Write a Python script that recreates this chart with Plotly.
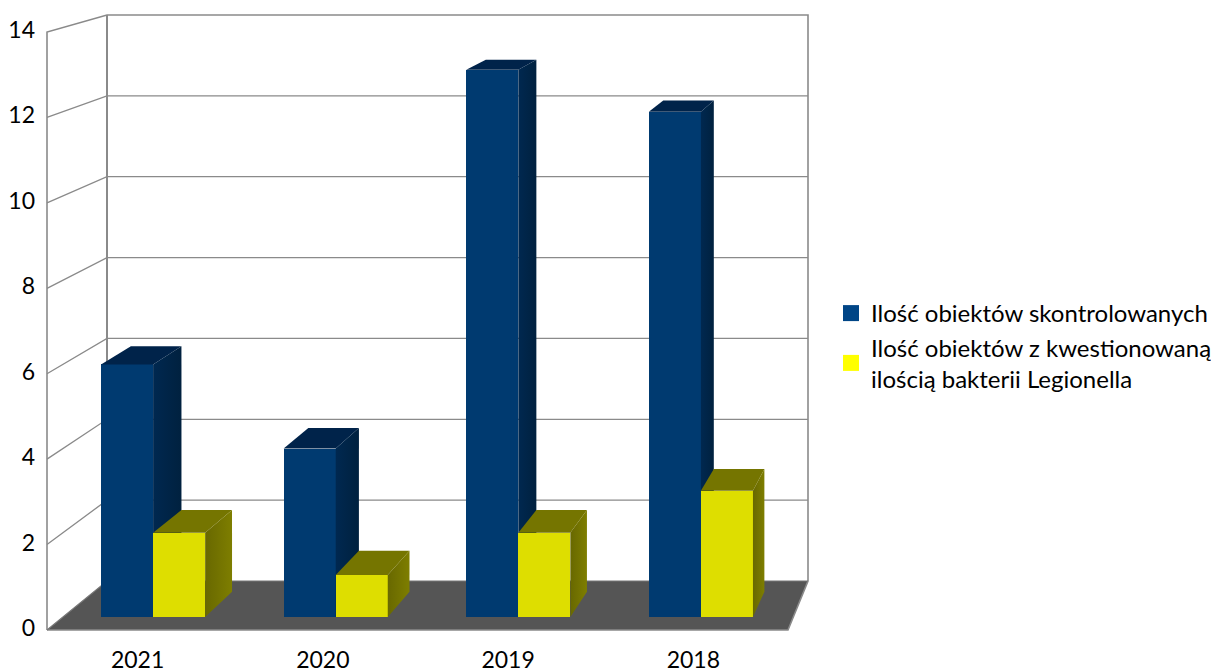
import plotly.graph_objects as go

categories = ["2021", "2020", "2019", "2018"]
skontrolowane = [6, 4, 13, 12]
kwestionowane = [2, 1, 2, 3]
legend_names = ["Ilość obiektów skontrolowanych",
                "Ilość obiektów z kwestionowaną<br>ilością bakterii Legionella"]
y_ticks = [0, 2, 4, 6, 8, 10, 12, 14]

W, H = 1211, 670
Z0, Z1 = 0.265, 0.78      # bar front / back depth
WIDTH = 0.285
CENTER = 0.494
FONT = "Lato"
GRID = "#8a8a8a"

def px(c, v, z):
    return 47 + 185.25 * c + z * (60 - 10 * c)

def py(v, z):
    return 630 - 42.71 * v + z * (-49 + 2.28 * v)

SX = px(1, 0, Z0) - px(0, 0, Z0)
SY = py(0, Z0) - py(1, Z0)
OX = px(0, 0, Z0)
OY = py(0, Z0)
xr = [(0 - OX) / SX, (W - OX) / SX]
yr = [(OY - H) / SY, OY / SY]

def proj(points):
    xs = [(px(c, v, z) - OX) / SX for c, v, z in points]
    ys = [(OY - py(v, z)) / SY for c, v, z in points]
    return xs + xs[:1], ys + ys[:1]

def poly(fig, points, color, xa="x", ya="y", gradient=None):
    x, y = proj(points)
    kw = {}
    if gradient:
        kw["fillgradient"] = dict(type="horizontal",
                                  colorscale=[[0, gradient[0]], [1, gradient[1]]])
    else:
        kw["fillcolor"] = color
    fig.add_trace(go.Scatter(x=x, y=y, mode="lines", fill="toself",
                             line=dict(width=0, color=color), hoverinfo="skip",
                             showlegend=False, xaxis=xa, yaxis=ya, **kw))

def line(fig, points, color=GRID, width=1.5):
    xs = [(px(c, v, z) - OX) / SX for c, v, z in points]
    ys = [(OY - py(v, z)) / SY for c, v, z in points]
    fig.add_trace(go.Scatter(x=xs, y=ys, mode="lines", line=dict(width=width, color=color),
                             hoverinfo="skip", showlegend=False, xaxis="x", yaxis="y"))

fig = go.Figure()

# floor
poly(fig, [(0, 0, 0), (4, 0, 0), (4, 0, 1), (0, 0, 1)], "#555555")
# walls
for v in y_ticks[1:-1]:
    line(fig, [(0, v, 0), (0, v, 1), (4, v, 1)], width=1.3)
line(fig, [(0, 0, 0), (0, 14, 0), (0, 14, 1), (4, 14, 1), (4, 0, 1), (4, 0, 0), (0, 0, 0)], width=1.6)
line(fig, [(0, 0, 0), (0, 0, 1), (4, 0, 1)], color="#777777", width=1.2)
line(fig, [(0, 14, 1), (0, 0, 1)], width=2)

def bar_3d(values, start, front, top, side, xa, ya):
    fig.add_trace(go.Bar(x=[i + CENTER for i in range(len(values))], y=values, base=0,
                         width=WIDTH, offset=start, marker=dict(color=front, line=dict(width=0)),
                         showlegend=False, xaxis=xa, yaxis=ya, hoverinfo="skip"))
    for i, v in enumerate(values):
        a = i + CENTER + start
        b = a + WIDTH
        poly(fig, [(a, v, Z0), (b, v, Z0), (b, v, Z1), (a, v, Z1)], top, xa, ya)
        poly(fig, [(b, 0, Z0), (b, v, Z0), (b, v, Z1), (b, 0, Z1)], side[0], xa, ya, gradient=side)

bar_3d(skontrolowane, -WIDTH, "#003a70", "#00234a", ("#002850", "#00213f"), "x2", "y2")
bar_3d(kwestionowane, 0, "#dede00", "#757500", ("#686800", "#7e7e00"), "x3", "y3")

# legend and labelled axes
for name, color in zip(legend_names, ["#004586", "#ffff00"]):
    fig.add_trace(go.Scatter(x=[None], y=[None], mode="markers", name=name,
                             marker=dict(symbol="square", size=16, color=color),
                             xaxis="x4", yaxis="y4"))

hidden = dict(visible=False, range=xr, fixedrange=True, domain=[0, 1])
hiddeny = dict(visible=False, range=yr, fixedrange=True, domain=[0, 1])
tick_font = dict(family=FONT, size=23, color="#000000")

fig.update_layout(
    width=W, height=H, margin=dict(l=0, r=0, t=0, b=0, autoexpand=False),
    paper_bgcolor="white", plot_bgcolor="rgba(0,0,0,0)", bargap=0,
    xaxis=dict(hidden, anchor="y"),
    yaxis=dict(hiddeny, anchor="x"),
    xaxis2=dict(hidden, overlaying="x", anchor="y2"),
    yaxis2=dict(hiddeny, overlaying="y", anchor="x2"),
    xaxis3=dict(hidden, overlaying="x", anchor="y3"),
    yaxis3=dict(hiddeny, overlaying="y", anchor="x3"),
    xaxis4=dict(domain=[45 / W, 786 / W], range=[-0.5, 3.5], tickmode="array",
                tickvals=list(range(len(categories))), ticktext=categories,
                showgrid=False, zeroline=False, showline=False, ticks="",
                ticklabelstandoff=16, tickfont=tick_font, anchor="y4"),
    yaxis4=dict(domain=[(H - 628) / H, (H - 30) / H], range=[0, 14], tickmode="array",
                tickvals=y_ticks, ticktext=[str(t) for t in y_ticks],
                showgrid=False, zeroline=False, showline=False, ticks="",
                ticklabelstandoff=9, tickfont=tick_font, anchor="x4"),
    legend=dict(x=831 / W, y=1 - 291 / H, xanchor="left", yanchor="top",
                font=dict(family=FONT, size=24, color="#000000"),
                bgcolor="rgba(0,0,0,0)", borderwidth=0, tracegroupgap=0),
    showlegend=True,
)
fig.write_html("out.html", config=dict(displayModeBar=False),
               post_script="document.body.style.margin='0';document.documentElement.style.overflow='hidden';")
